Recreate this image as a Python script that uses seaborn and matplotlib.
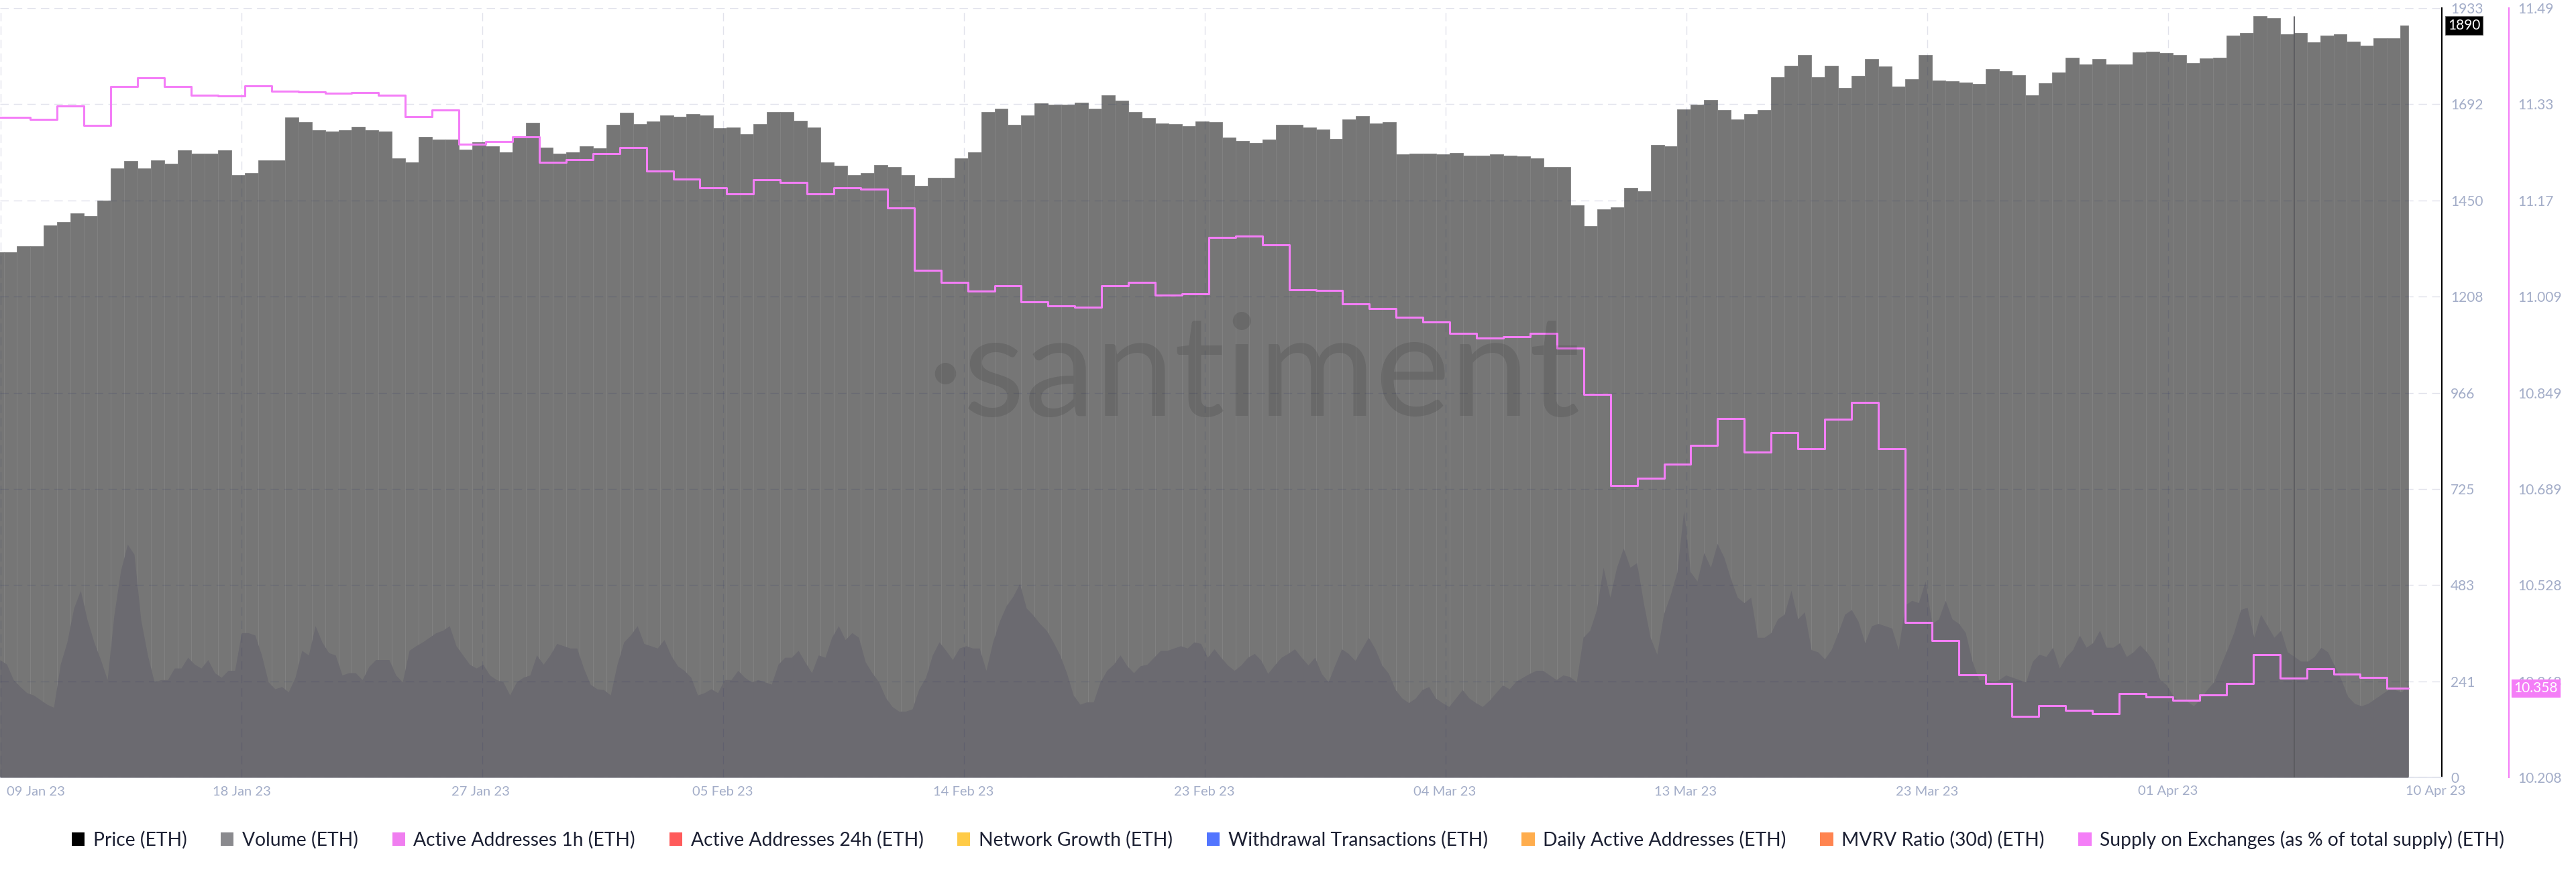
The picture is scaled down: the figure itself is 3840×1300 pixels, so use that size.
import numpy as np
import matplotlib
matplotlib.use("Agg")
import matplotlib.pyplot as plt
from matplotlib.patches import Patch
import seaborn as sns

# ─────────────────────────────────────────
# THEME
# ─────────────────────────────────────────
sns.set_theme(style="white")
plt.rcParams["font.family"] = ["Lato", "DejaVu Sans"]

# ─────────────────────────────────────────
# DATA  (x axis in days after 09 Jan 23)
# ─────────────────────────────────────────

# ETH price, 12h bars, first bar starts half a day before 09 Jan
price_12h = [
    1320, 1320, 1335, 1335, 1387, 1396, 1417, 1410, 1450, 1530,
    1549, 1531, 1551, 1542, 1576, 1568, 1567, 1576, 1514, 1519,
    1551, 1550, 1659, 1646, 1626, 1623, 1627, 1635, 1627, 1623,
    1555, 1545, 1610, 1603, 1602, 1577, 1596, 1586, 1571, 1608,
    1645, 1583, 1567, 1570, 1585, 1580,
    1640, 1670, 1642, 1648, 1663, 1660, 1666, 1663, 1631, 1633,
    1616, 1642, 1671, 1672, 1650, 1633, 1545, 1537, 1514, 1519,
    1539, 1534, 1514, 1486, 1506, 1507, 1555, 1571, 1672, 1680,
    1639, 1664, 1694, 1691, 1691, 1695, 1680, 1714, 1701, 1671,
    1657, 1643, 1642, 1637, 1649,
    1647, 1607, 1599, 1594, 1603, 1640, 1639, 1633, 1628, 1605,
    1654, 1662, 1643, 1646, 1565, 1568, 1568, 1566, 1569, 1563,
    1563, 1566, 1563, 1560, 1555, 1533, 1534, 1438, 1385, 1427,
    1432, 1481, 1473, 1589, 1585, 1679, 1691, 1702, 1676, 1654,
    1666, 1676, 1760, 1788, 1815, 1760, 1788,
    1732, 1763, 1805, 1787, 1736, 1755, 1815, 1751, 1750, 1746,
    1742, 1780, 1774, 1764, 1714, 1745, 1772, 1809, 1791, 1805,
    1791, 1792, 1821, 1823, 1820, 1815, 1794, 1807, 1809, 1864,
    1870, 1913, 1908, 1868, 1871, 1847, 1864, 1867, 1848, 1839,
    1858, 1857, 1889,
]

# Supply on exchanges (% of total supply), daily, first day is 08 Jan
supply_daily = [
    11.308, 11.308, 11.305, 11.327, 11.294, 11.359, 11.374, 11.359, 11.345, 11.344,
    11.360, 11.351, 11.350, 11.348, 11.349, 11.345, 11.309, 11.320, 11.263, 11.268,
    11.275, 11.233, 11.237, 11.248, 11.258, 11.218, 11.205, 11.191, 11.180, 11.204,
    11.199, 11.180, 11.190, 11.188, 11.157, 11.053, 11.033, 11.018, 11.027, 11.001,
    10.994, 10.991, 11.027, 11.033, 11.012, 11.014, 11.108, 11.110, 11.096, 11.021,
    11.020, 10.997, 10.989, 10.975, 10.967, 10.948, 10.940, 10.942, 10.948, 10.923,
    10.846, 10.694, 10.707, 10.730, 10.761, 10.806, 10.750, 10.782, 10.756, 10.805,
    10.833, 10.756, 10.466, 10.436, 10.379, 10.365, 10.310, 10.328, 10.320, 10.314,
    10.348, 10.342, 10.337, 10.345, 10.365, 10.412, 10.373, 10.389, 10.380, 10.375,
    10.357,
]
supply_end_day = 89.79

# Active addresses 1h, drawn on its own hidden scale (% of panel height), every 6h
active_1h = [
    15.3, 14.7, 12.7, 11.8, 11.0, 10.7, 10.1, 9.5, 9.1, 14.7,
    17.6, 22.0, 24.3, 20.5, 17.6, 15.3, 12.7, 21.1, 26.9, 30.3,
    29.0, 20.5, 15.9, 12.4, 12.7, 12.7, 14.2, 14.2, 15.6, 14.7,
    14.2, 15.3, 13.6, 13.0, 13.9, 13.9, 18.8, 18.8, 18.5, 15.9,
    12.4, 11.5, 11.8, 11.1, 13.0, 16.5, 15.9, 19.7, 17.6, 16.2,
    15.9, 13.3, 13.6, 13.6, 12.7, 14.4, 15.3, 15.3, 15.3, 13.3,
    12.4, 16.5, 17.1, 17.6, 18.2, 18.8, 19.1, 19.7, 17.1, 15.9,
    14.7, 14.2, 14.7, 13.3, 12.7, 12.4, 10.7, 12.4, 13.0, 13.3,
    15.9, 14.7, 15.9, 17.4, 17.1, 16.8, 16.8, 14.2, 12.1, 11.5,
    11.4, 10.7, 14.7, 17.6, 18.5, 19.7, 17.4, 17.1, 16.8, 17.9,
    15.9, 14.5, 13.9, 13.0, 10.7, 11.0, 11.5, 11.0, 12.7, 12.7,
    13.9, 13.0, 12.4, 12.7, 12.4, 12.1, 14.7, 15.6, 15.6, 16.5,
    15.0, 13.6, 15.9, 15.6, 18.2, 19.7, 17.9, 18.8, 18.2, 15.0,
    13.6, 12.4, 10.4, 9.2, 8.6, 8.6, 8.9, 11.5, 13.0, 15.9,
    17.6, 16.5, 15.3, 16.8, 17.1, 16.8, 16.8, 13.9, 17.6, 20.3,
    22.3, 23.5, 25.2, 22.0, 21.1, 20.0, 19.1, 17.6, 15.9, 13.6,
    10.7, 9.5, 9.8, 9.8, 12.4, 13.9, 14.7, 15.9, 14.5, 13.6,
    14.5, 14.7, 15.6, 16.5, 16.5, 16.8, 17.1, 16.8, 17.6, 17.4,
    15.6, 16.7, 15.6, 14.6, 13.9, 14.6, 15.6, 16.1, 15.2, 13.5,
    14.6, 15.6, 16.1, 16.7, 15.6, 14.6, 15.6, 13.5, 12.4, 14.6,
    16.7, 16.1, 15.2, 16.7, 18.2, 16.7, 14.6, 13.5, 11.4, 10.3,
    9.7, 10.3, 11.4, 11.8, 10.3, 9.7, 9.2, 10.3, 11.4, 10.3,
    9.7, 9.2, 10.0, 11.0, 12.0, 11.5, 12.5, 13.0, 13.5, 13.9,
    13.9, 13.3, 12.7, 13.3, 13.1, 12.4, 18.2, 19.1, 21.8, 27.3,
    23.4, 27.3, 29.8, 27.3, 27.9, 22.7, 18.2, 16.0, 21.2, 23.7,
    26.7, 34.7, 26.7, 25.5, 29.2, 27.3, 30.4, 28.6, 25.8, 23.4,
    22.7, 23.4, 18.2, 18.2, 18.8, 20.6, 21.2, 24.3, 20.6, 21.5,
    16.6, 16.3, 15.4, 16.6, 18.8, 21.2, 21.8, 20.3, 17.5, 19.7,
    20.0, 19.7, 19.4, 16.6, 22.4, 23.0, 22.7, 25.5, 20.0, 20.6,
    23.0, 20.6, 20.0, 18.8, 15.1, 12.7, 12.7, 12.4, 12.7, 13.3,
    13.0, 12.7, 12.4, 15.1, 16.0, 15.7, 16.9, 14.2, 15.7, 16.6,
    18.5, 16.9, 17.5, 19.1, 16.9, 16.9, 17.5, 15.7, 16.3, 17.2,
    16.3, 15.1, 12.7, 12.0, 10.5, 9.9, 9.9, 9.3, 10.2, 11.4,
    12.4, 14.5, 16.6, 18.8, 21.8, 22.1, 18.2, 21.2, 19.7, 18.2,
    19.1, 16.3, 15.7, 15.1, 15.1, 15.7, 16.9, 16.3, 14.5, 12.7,
    10.5, 9.6, 9.3, 9.6, 10.2, 10.8, 11.4, 11.4, 11.1, 12.0,
]

price_ticks = ["0", "241", "483", "725", "966", "1208", "1450", "1692", "1933"]
supply_ticks = ["10.208", "10.368", "10.528", "10.689", "10.849",
                "11.009", "11.17", "11.33", "11.49"]
date_labels = ["09 Jan 23", "18 Jan 23", "27 Jan 23", "05 Feb 23", "14 Feb 23",
               "23 Feb 23", "04 Mar 23", "13 Mar 23", "23 Mar 23", "01 Apr 23",
               "10 Apr 23"]
date_label_days = [1.2, 8.88, 17.82, 26.84, 35.83, 44.83, 53.82, 62.81, 71.81, 80.82, 90.82]
grid_days = [-0.12, 8.88, 17.87, 26.87, 35.86, 44.85, 53.84, 62.84, 71.83, 80.82]
marker_day = 85.53

legend_names = ["Price (ETH)", "Volume (ETH)", "Active Addresses 1h (ETH)",
                "Active Addresses 24h (ETH)", "Network Growth (ETH)",
                "Withdrawal Transactions (ETH)", "Daily Active Addresses (ETH)",
                "MVRV Ratio (30d) (ETH)",
                "Supply on Exchanges (as % of total supply) (ETH)"]
legend_colors = ["#000000", "#8a8a8e", "#f07ef0", "#ff5b5b", "#ffcb47",
                 "#5275ff", "#ffad4d", "#ff8450", "#f47ef7"]

PINK = "#f47ef7"
TICK_COLOR = "#a3adc8"
GRID_RGB = (0.10, 0.13, 0.40)
GRID_ALPHA = 0.13
GRID_DASH = (0, (9, 5.5))

# ─────────────────────────────────────────
# FIGURE
# ─────────────────────────────────────────
W, H = 3840, 1300
fig = plt.figure(figsize=(W / 100, H / 100), dpi=100)
fig.patch.set_facecolor("white")
ax = fig.add_axes([0, 1 - 1159 / H, 3640 / W, (1159 - 12) / H])
ax_act = ax.twinx()
ax_sup = ax.twinx()

# price bars (12h)
bar_left = np.arange(-1, len(price_12h) - 1) * 0.5
bar_width = np.full(len(price_12h), 0.5)
bar_width[-1] = supply_end_day - bar_left[-1]
ax.bar(bar_left, price_12h, width=bar_width, align="edge",
       color="#767676", edgecolor="#828282", linewidth=0.6, zorder=1)

# active addresses area
act_x = -0.138 + np.arange(len(active_1h)) * 0.2505
ax_act.fill_between(act_x, 0, active_1h, color="#6b6a70", linewidth=0)
ax_act.set_ylim(0, 100)
ax_act.axis("off")

# supply on exchanges step line
sup_x = list(np.arange(-1, len(supply_daily) - 1)) + [supply_end_day]
sup_y = supply_daily + [supply_daily[-1]]
sns.lineplot(x=sup_x, y=sup_y, ax=ax_sup, drawstyle="steps-post",
             color=PINK, linewidth=2.2, legend=False, zorder=5)

# shared x range
ax.set_xlim(-0.138, 91.045)

# price axis (black, right)
ax.set_ylim(0, 1933)
ax.set_yticks(np.linspace(0, 1933, 9))
ax.set_yticklabels(price_ticks)
ax.yaxis.tick_right()
ax.tick_params(axis="y", length=0, pad=9.5, labelsize=15, labelcolor=TICK_COLOR)
for s in ["left", "top"]:
    ax.spines[s].set_visible(False)
ax.spines["right"].set_color("black")
ax.spines["right"].set_linewidth(1.5)
ax.spines["bottom"].set_color("#e3e6ee")
ax.spines["bottom"].set_linewidth(1.5)

# date labels
ax.set_xticks(date_label_days)
ax.set_xticklabels(date_labels)
ax.tick_params(axis="x", length=0, pad=9, labelsize=14.5, labelcolor=TICK_COLOR)
ax.grid(False)

# supply axis (pink, further right) + grid drawn over bars
ax_sup.set_ylim(10.208, 11.49)
ax_sup.set_yticks(np.linspace(10.208, 11.49, 9))
ax_sup.set_yticklabels(supply_ticks)
ax_sup.set_ylabel("")
ax_sup.tick_params(axis="y", length=0, pad=9.5, labelsize=15, labelcolor=TICK_COLOR)
ax_sup.spines["right"].set_position(("outward", 72))
ax_sup.spines["right"].set_color(PINK)
ax_sup.spines["right"].set_linewidth(1.5)
for s in ["left", "top", "bottom"]:
    ax_sup.spines[s].set_visible(False)
ax_sup.set_axisbelow(True)
ax_sup.grid(True, axis="y", color=GRID_RGB, alpha=GRID_ALPHA, linewidth=1.0,
            linestyle=GRID_DASH)
for gd in grid_days:
    ax_sup.axvline(gd, color=GRID_RGB, alpha=GRID_ALPHA, linewidth=1.0,
                   linestyle=GRID_DASH, zorder=0.5)

# crosshair-like marker line
ax_sup.axvline(marker_day, ymin=0, ymax=0.989, color="#5b5b60", linewidth=1.3, zorder=4)

# last value badges
ax.annotate("1890", xy=(1.0025, price_12h[-1]), xycoords=("axes fraction", "data"),
            ha="left", va="center", fontsize=15, color="white",
            bbox=dict(boxstyle="square,pad=0.18", fc="black", ec="#666666", lw=0.8))
ax_sup.annotate("10.358", xy=(1.0295, supply_daily[-1]), xycoords=("axes fraction", "data"),
                ha="left", va="center", fontsize=15, color="white",
                bbox=dict(boxstyle="square,pad=0.15", fc=PINK, ec=PINK, lw=0.8),
                annotation_clip=False, zorder=10)

# watermark
fig.text(1868 / W, 1 - 560 / H, "·santiment", fontsize=152, color="black",
         alpha=0.11, ha="center", va="center")

# legend
handles = [Patch(facecolor=c, edgecolor="none") for c in legend_colors]
fig.legend(handles, legend_names, loc="center", bbox_to_anchor=(0.5, 1 - 1252 / H),
           ncol=9, frameon=False, fontsize=20.3, handlelength=0.68, handleheight=0.68,
           handletextpad=0.45, columnspacing=1.8, labelcolor="#1c2033")

fig.savefig("out.png", dpi=100)
